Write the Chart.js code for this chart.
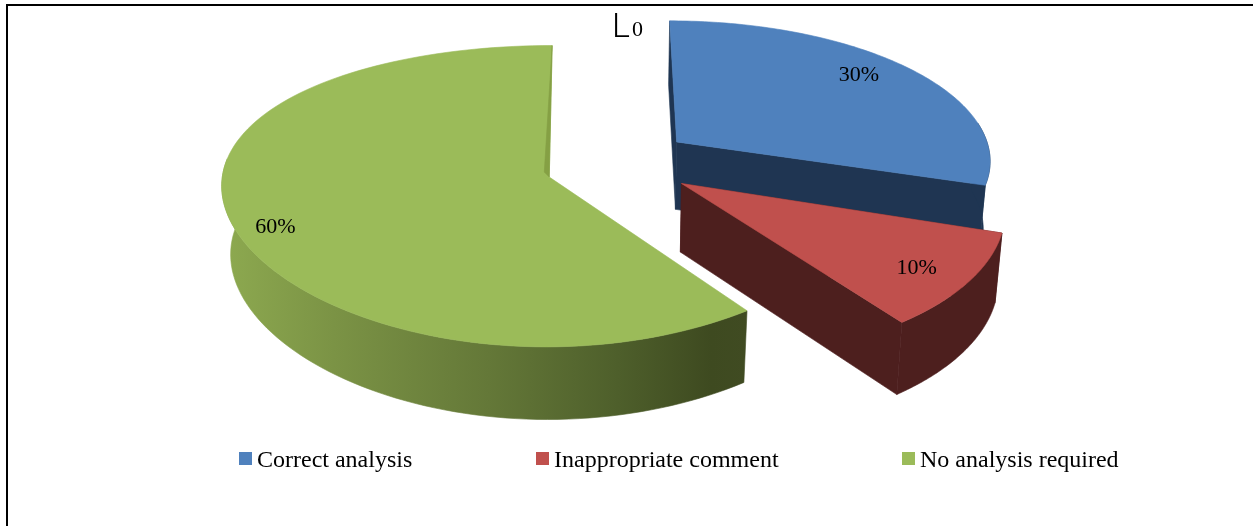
<!DOCTYPE html>
<html>
<head>
<meta charset="utf-8">
<style>
html,body{margin:0;padding:0;background:#fff;overflow:hidden}
canvas{display:block}
</style>
<script src="https://cdn.jsdelivr.net/npm/chart.js@4"></script>
</head>
<body>
<canvas id="chart" width="1253" height="526"></canvas>
<script>
const categories = ['Correct analysis', 'Inappropriate comment', 'No analysis required'];
const shares = [30, 10, 60];
const topColors = ['#4F81BD', '#C0504D', '#9BBB59'];
const wallColors = ['#1F3552', '#4D1F1E', '#4F602B'];
const explode = [60, 55, 45.5];
const labelRadius = [0.795, 0.82, 0.88];
const labelTurn = [-3, 2.5, -3];
const legendX = [239, 536, 902];
const greenWallStops = ['#8CA84F', '#7B9345', '#647838', '#4E5F2B', '#3E4A20', '#404B22'];

// Oblique camera for the tilted pie; each wedge is seated slightly differently
const view = {
  cx: [610, 618, 610],
  cy: [164, 162.5, 168.2],
  rx: 326,
  ry: [148.6, 148.6, 146],
  perspY: 0.126,
  perspX: [0.126, 0.14, 0.05],
  rimU: [0.97, 0.96, 1],
  rimV: [0.945, 1, 1],
  depth: 68,
  depthPersp: 0.06,
  floorScale: [0.982, 0.982, 0.977]
};

function project(i, u, v, floor) {
  const wy = 1 - view.perspY * v;
  const wx = 1 - view.perspX[i] * v;
  const s = floor ? view.floorScale[i] : 1;
  return {
    x: view.cx[i] + view.rx * s * u / wx,
    y: view.cy[i] + view.ry[i] * v / wy + (floor ? view.depth / (1 - view.depthPersp * v) : 0)
  };
}

function sliceGeometry(arc, i) {
  const R = arc.outerRadius;
  const mid = (arc.startAngle + arc.endAngle) / 2;
  const off = arc.options.offset / R;
  const ax = Math.cos(mid) * off, ay = Math.sin(mid) * off;
  const rim = [];
  const steps = 120;
  for (let k = 0; k <= steps; k++) {
    const a = arc.startAngle + (arc.endAngle - arc.startAngle) * k / steps;
    rim.push({u: ax + view.rimU[i] * Math.cos(a), v: ay + view.rimV[i] * Math.sin(a), front: Math.sin(a) > -0.15});
  }
  return {ax, ay, mid, rim};
}

function fillPoly(ctx, pts, fill) {
  ctx.beginPath();
  pts.forEach((p, i) => i ? ctx.lineTo(p.x, p.y) : ctx.moveTo(p.x, p.y));
  ctx.closePath();
  ctx.fillStyle = fill;
  ctx.fill();
  ctx.strokeStyle = fill;
  ctx.lineWidth = 0.6;
  ctx.stroke();
}

const pie3d = {
  id: 'pie3d',
  beforeDraw(chart) {
    const {ctx, width, height} = chart;
    ctx.save();
    ctx.fillStyle = '#fff';
    ctx.fillRect(0, 0, width, height);
    ctx.fillStyle = '#000';
    ctx.fillRect(6, 4, width - 6, 2);
    ctx.fillRect(6, 4, 2, height - 4);
    ctx.restore();
  },
  beforeDatasetDraw(chart) {
    const {ctx} = chart;
    const arcs = chart.getDatasetMeta(0).data;
    ctx.save();
    arcs.forEach((arc, i) => {
      const g = sliceGeometry(arc, i);
      const top = g.rim.map(p => project(i, p.u, p.v, false));
      const bottom = g.rim.map(p => project(i, p.u, p.v, true));
      const apexTop = project(i, g.ax, g.ay, false);
      const apexBottom = project(i, g.ax, g.ay, true);
      const isGreen = i === 2;

      if (!isGreen) {
        const last = top.length - 1;
        fillPoly(ctx, [top[0], apexTop, apexBottom, bottom[0]], wallColors[i]);
        fillPoly(ctx, [apexTop, top[last], bottom[last], apexBottom], wallColors[i]);
      }
      const frontTop = top.filter((p, k) => g.rim[k].front);
      const frontBottom = bottom.filter((p, k) => g.rim[k].front);
      const wall = frontTop.concat(frontBottom.slice().reverse());
      let fill = wallColors[i];
      if (isGreen) {
        const xs = wall.map(p => p.x);
        const x0 = Math.min(...xs) + 8, x1 = Math.max(...xs);
        fill = ctx.createLinearGradient(x0, 0, x1, 0);
        const stopAt = [0, 0.2, 0.5, 0.75, 0.93, 1];
        greenWallStops.forEach((c, k) => fill.addColorStop(stopAt[k], c));
      }
      fillPoly(ctx, wall, fill);
      fillPoly(ctx, [apexTop].concat(top), topColors[i]);

      if (isGreen) {
        // narrow shaded sliver along the cut that runs up to twelve o'clock
        const end = top[top.length - 1];
        fillPoly(ctx, [end, apexTop, {x: apexTop.x - 5, y: apexTop.y - 5}], '#85A044');
      }
    });
    ctx.restore();
    return false;
  },
  afterDatasetsDraw(chart) {
    const {ctx} = chart;
    const arcs = chart.getDatasetMeta(0).data;
    const values = chart.data.datasets[0].data;
    const total = values.reduce((a, b) => a + b, 0);
    ctx.save();
    ctx.fillStyle = '#000';
    ctx.textBaseline = 'middle';

    // percentage labels
    ctx.font = '22px "Liberation Serif"';
    ctx.textAlign = 'center';
    arcs.forEach((arc, i) => {
      const g = sliceGeometry(arc, i);
      const a = g.mid + labelTurn[i] * Math.PI / 180;
      const p = project(i, g.ax + Math.cos(a) * labelRadius[i], g.ay + Math.sin(a) * labelRadius[i], false);
      ctx.fillText(Math.round(values[i] / total * 100) + '%', p.x, p.y + 1);
    });

    // legend row
    ctx.textAlign = 'left';
    chart.data.labels.forEach((name, i) => {
      ctx.fillStyle = topColors[i];
      ctx.fillRect(legendX[i], 452, 13, 13);
      ctx.fillStyle = '#000';
      ctx.font = '24px "Liberation Serif"';
      ctx.fillText(name, legendX[i] + 18, 460.5);
    });

    // stray title glyphs above the pie
    ctx.font = '300 34px Roboto';
    ctx.fillText('L', 612, 28);
    ctx.font = '22px "Liberation Serif"';
    ctx.fillText('0', 632, 30);
    ctx.restore();
  }
};

new Chart(document.getElementById('chart'), {
  type: 'pie',
  data: {
    labels: categories,
    datasets: [{
      data: shares,
      backgroundColor: topColors,
      offset: explode,
      borderWidth: 0
    }]
  },
  options: {
    responsive: false,
    animation: false,
    rotation: 0,
    layout: {padding: 0},
    plugins: {legend: {display: false}, tooltip: {enabled: false}, title: {display: false}}
  },
  plugins: [pie3d]
});
</script>
</body>
</html>
